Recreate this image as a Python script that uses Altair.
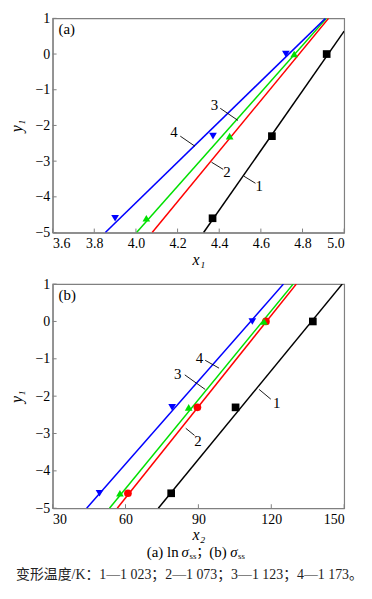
import altair as alt
import pandas as pd

SERIES = ["1", "2", "3", "4"]
COLORS = ["#000000", "#ff0000", "#00e000", "#0000ff"]
SHAPES = ["square", "circle", "triangle-up", "triangle-down"]

# ---------- panel (a): x1 vs y1 ----------
a_line_series = ["1", "1", "2", "2", "3", "3", "4", "4"]
a_line_x = [4.325, 5.0, 4.078, 4.925, 4.003, 4.915, 3.853, 4.91]
a_line_y = [-5, 0.64, -5, 1, -5, 1, -5, 1]

a_pt_series = ["1", "1", "1", "3", "3", "3", "4", "4", "4"]
a_pt_x = [4.368, 4.653, 4.916, 4.05, 4.45, 4.76, 3.90, 4.37, 4.72]
a_pt_y = [-4.6, -2.3, 0, -4.6, -2.3, 0, -4.6, -2.3, 0]

a_lab_text = ["1", "2", "3", "4"]
a_lab_x = [4.592, 4.437, 4.377, 4.183]
a_lab_y = [-3.70, -3.31, -1.43, -2.19]
a_lead_x = [4.518, 4.363, 4.405, 4.213]
a_lead_y = [-3.42, -3.03, -1.52, -2.30]
a_lead_x2 = [4.574, 4.419, 4.49, 4.283]
a_lead_y2 = [-3.62, -3.23, -1.86, -2.58]

a_xticks = [3.6, 3.8, 4.0, 4.2, 4.4, 4.6, 4.8, 5.0]

# ---------- panel (b): x2 vs y1 ----------
b_line_series = ["1", "1", "2", "2", "3", "3", "4", "4"]
b_line_x = [73.5, 149.2, 56.6, 130.3, 53.4, 129.0, 44.0, 125.0]
b_line_y = [-5, 1, -5, 1, -5, 1, -5, 1]

b_pt_series = ["1", "1", "1", "2", "2", "2", "3", "3", "3", "4", "4", "4"]
b_pt_x = [78.8, 105.3, 137.1, 61.0, 89.6, 117.8, 57.7, 86.0, 117.0, 49.3, 79.2, 112.2]
b_pt_y = [-4.6, -2.3, 0, -4.6, -2.3, 0, -4.6, -2.3, 0, -4.6, -2.3, 0]

b_lab_text = ["1", "2", "3", "4"]
b_lab_x = [122.2, 89.8, 81.5, 90.4]
b_lab_y = [-2.18, -3.20, -1.40, -0.98]
b_lead_x = [115.0, 84.8, 84.4, 92.8]
b_lead_y = [-1.82, -2.86, -1.43, -1.04]
b_lead_x2 = [119.8, 88.4, 92.8, 98.5]
b_lead_y2 = [-2.08, -3.05, -1.82, -1.25]

b_xticks = [30, 60, 90, 120, 150]
yticks = [-5, -4, -3, -2, -1, 0, 1]

FONT = "Liberation Serif"
W = 294
H1 = 216
H2 = 226

color_scale = alt.Scale(domain=SERIES, range=COLORS)
shape_scale = alt.Scale(domain=SERIES, range=SHAPES)


def panel(lx, ly, ls, px, py, ps, labt, labx, laby, ldx, ldy, ldx2, ldy2,
          xdom, xticks, xfmt, xtitle, tag, H, extra=None):
    xs = alt.Scale(domain=xdom, nice=False, zero=False)
    ys = alt.Scale(domain=[-5, 1], nice=False, zero=False)
    xax = alt.Axis(values=xticks, format=xfmt, title=xtitle, ticks=False,
                   labelPadding=4, titlePadding=1, grid=False, labelOverlap=False)
    yax = alt.Axis(values=yticks, format="d", title="y\u2081", ticks=False,
                   labelPadding=3, titlePadding=10, grid=False, labelOverlap=False)
    X = lambda f: alt.X(f, scale=xs, axis=xax)
    Y = lambda f: alt.Y(f, scale=ys, axis=yax)
    dl = pd.DataFrame({"x": lx, "y": ly, "s": ls})
    dp = pd.DataFrame({"x": px, "y": py, "s": ps})
    dlab = pd.DataFrame({"t": labt, "x": labx, "y": laby})
    dlead = pd.DataFrame({"x": ldx, "y": ldy, "x2": ldx2, "y2": ldy2})

    lines = alt.Chart(dl).mark_line(strokeWidth=1.5, clip=True).encode(
        x=X("x:Q"), y=Y("y:Q"),
        color=alt.Color("s:N", scale=color_scale, legend=None),
        detail="s:N",
    )
    pts = alt.Chart(dp).mark_point(filled=True, opacity=1, size=60).encode(
        x=X("x:Q"), y=Y("y:Q"),
        color=alt.Color("s:N", scale=color_scale, legend=None),
        shape=alt.Shape("s:N", scale=shape_scale, legend=None),
    )
    leads = alt.Chart(dlead).mark_rule(color="black", strokeWidth=0.9).encode(
        x=X("x:Q"), y=Y("y:Q"), x2="x2:Q", y2="y2:Q",
    )
    labs = alt.Chart(dlab).mark_text(font=FONT, fontSize=15, color="black").encode(
        x=X("x:Q"), y=Y("y:Q"), text="t:N",
    )
    dxt = pd.DataFrame({"v": xticks})
    xt = alt.Chart(dxt).mark_rule(color="#808080", strokeWidth=1).encode(
        x=X("v:Q"), y=alt.value(H), y2=alt.value(H - 4),
    )
    dyt = pd.DataFrame({"v": yticks})
    yt = alt.Chart(dyt).mark_rule(color="#808080", strokeWidth=1).encode(
        y=Y("v:Q"), x=alt.value(0), x2=alt.value(4),
    )
    tagm = alt.Chart(pd.DataFrame({"t": [tag]})).mark_text(
        font=FONT, fontSize=15, align="left", baseline="middle", color="black"
    ).encode(x=alt.value(6), y=alt.value(11), text="t:N")
    layers = [lines, pts, xt, yt, leads, labs, tagm]
    if extra:
        layers += extra
    return alt.layer(*layers).properties(width=W, height=H)


# caption pieces (bottom panel): text, x, dy, size, style
cap_parts = [
    ("(a) ln", 95, 0, 15, "normal"),
    ("\u03c3", 130, 0, 15, "italic"),
    ("ss", 138, 4, 9, "normal"),
    ("\uff1b", 145, 0, 13, "normal"),
    ("(b)", 158, 0, 15, "normal"),
    ("\u03c3", 179, 0, 15, "italic"),
    ("ss", 187, 4, 9, "normal"),
]
cap_line2 = "变形温度/K：1—1 023；2—1 073；3—1 123；4—1 173。"

extra = []
for txt, cx, dy, fs, st in cap_parts:
    extra.append(
        alt.Chart(pd.DataFrame({"t": [txt]})).mark_text(
            font=FONT + ", Noto Sans CJK SC", fontSize=fs, fontStyle=st,
            align="left", baseline="middle", color="black"
        ).encode(x=alt.value(cx), y=alt.value(H2 + 44 + dy), text="t:N")
    )
extra.append(
    alt.Chart(pd.DataFrame({"t": [cap_line2]})).mark_text(
        font=FONT + ", Noto Sans CJK SC", fontSize=14, align="center",
        baseline="middle", color="#222222"
    ).encode(x=alt.value(138), y=alt.value(H2 + 67), text="t:N")
)

top = panel(a_line_x, a_line_y, a_line_series, a_pt_x, a_pt_y, a_pt_series,
            a_lab_text, a_lab_x, a_lab_y, a_lead_x, a_lead_y, a_lead_x2, a_lead_y2,
            [3.6, 5.0], a_xticks, ".1f", "x\u2081", "(a)", H1)
bottom = panel(b_line_x, b_line_y, b_line_series, b_pt_x, b_pt_y, b_pt_series,
               b_lab_text, b_lab_x, b_lab_y, b_lead_x, b_lead_y, b_lead_x2, b_lead_y2,
               [30, 150], b_xticks, "d", "x\u2082", "(b)", H2, extra)

chart = alt.vconcat(top, bottom, spacing=8).properties(
    padding={"left": 0, "top": 0, "right": 0, "bottom": 0},
    background="white",
).configure_view(
    stroke="#808080", strokeWidth=1.2
).configure_axis(
    domainColor="#808080", domainWidth=1.2, labelOverlap=False,
    labelFont=FONT, labelFontSize=14, labelColor="black",
    titleFont=FONT, titleFontSize=16, titleFontStyle="italic",
    titleFontWeight="normal", titleColor="black",
)

chart.save("out.html", embed_options={"renderer": "svg", "actions": False})
